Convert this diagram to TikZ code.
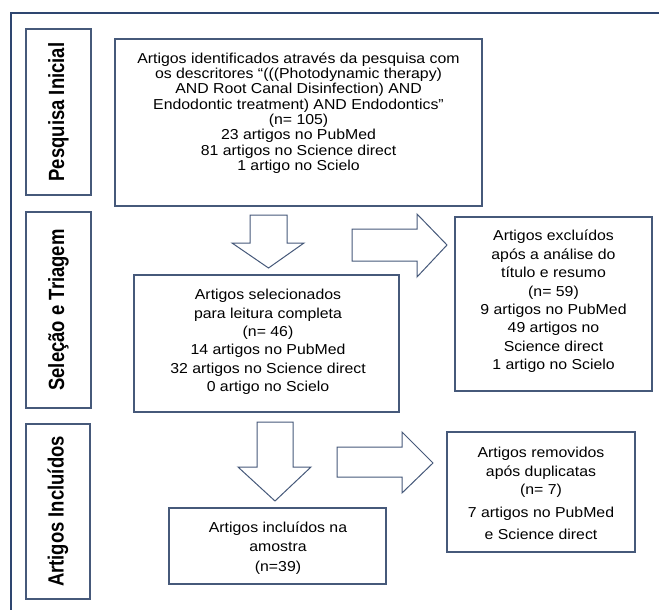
\documentclass[tikz,border=0pt]{standalone}
\usepackage{fontspec}
\setmainfont[FakeStretch=1.1]{Liberation Sans}
\newfontfamily\sidefont[FakeStretch=0.84]{Liberation Sans}
\definecolor{framecol}{HTML}{2E4670}
\definecolor{boxcol}{HTML}{46597A}

\begin{document}
\begin{tikzpicture}[x=1pt, y=-1pt,
    box/.style={draw=boxcol, line width=1.1pt, inner sep=0pt},
    txt/.style={align=center, inner sep=0pt,
      font=\fontsize{14.4}{18.4}\selectfont},
    side/.style={draw=boxcol, line width=1.1pt, rotate=90, inner sep=0pt,
      font=\sidefont\fontsize{22}{24}\selectfont\bfseries},
    blockarrow/.style={draw=boxcol, line width=1pt, fill=white}]

  \useasboundingbox (0,0) rectangle (659,610);
  \clip (0,0) rectangle (659,610);

  % Outer frame
  \draw[framecol, line width=1.1pt] (11,620) -- (11,13) -- (670,13);

  %%%%%%%%%%%%%%%%%%%%%%%%%%%%%%%%%%%%%%%%%%%%%%%%%
  % Side labels
  \node[side, minimum width=166, minimum height=65] (inicial) at (58.5,112) {Pesquisa Inicial};
  \node[side, minimum width=196, minimum height=65] (triagem) at (58.5,310) {Seleção e Triagem};
  \node[side, minimum width=175, minimum height=64] (incluidos) at (58,511.5) {Artigos Incluídos};

  %%%%%%%%%%%%%%%%%%%%%%%%%%%%%%%%%%%%%%%%%%%%%%%%%
  % Boxes
  \node[box, minimum width=367, minimum height=167] (ident) at (298.5,122.5) {};
  \node[txt, font=\fontsize{14.4}{15.3}\selectfont] (identtxt) at (298.5,113)
    {Artigos identificados através da pesquisa com\\
     os descritores “(((Photodynamic therapy)\\
     AND Root Canal Disinfection) AND\\
     Endodontic treatment) AND Endodontics”\\
     (n= 105)\\
     23 artigos no PubMed\\
     81 artigos no Science direct\\
     1 artigo no Scielo};

  \node[box, minimum width=265, minimum height=137] (selec) at (266.5,343.5) {};
  \node[txt] (selectxt) at (268,342)
    {Artigos selecionados\\
     para leitura completa\\
     (n= 46)\\
     14 artigos no PubMed\\
     32 artigos no Science direct\\
     0 artigo no Scielo};

  \node[box, minimum width=197, minimum height=174] (exclu) at (553.5,304) {};
  \node[txt] (exclutxt) at (553.5,301.5)
    {Artigos excluídos\\
     após a análise do\\
     título e resumo\\
     (n= 59)\\
     9 artigos no PubMed\\
     49 artigos no\\
     Science direct\\
     1 artigo no Scielo};

  \node[box, minimum width=188, minimum height=120] (remov) at (541,492) {};
  \node[txt] (removtxt) at (541,493.5)
    {Artigos removidos\\
     após duplicatas\\
     (n= 7)\\[5pt]
     7 artigos no PubMed\\[3.5pt]
     e Science direct};

  \node[box, minimum width=217, minimum height=76] (inclu) at (277.5,546) {};
  \node[txt] (inclutxt) at (278,548.5)
    {Artigos incluídos na\\
     amostra\\[2.5pt]
     (n=39)};

  %%%%%%%%%%%%%%%%%%%%%%%%%%%%%%%%%%%%%%%%%%%%%%%%%
  % Block arrows
  \draw[blockarrow] (250,215) -- (287,215) -- (287,243) -- (304,243)
    -- (268.5,268) -- (232,243) -- (250,243) -- cycle;
  \draw[blockarrow] (352,229) -- (417,229) -- (417,214) -- (447,245)
    -- (417,277) -- (417,261) -- (352,261) -- cycle;
  \draw[blockarrow] (257,422) -- (293,422) -- (293,467) -- (311,467)
    -- (275,501) -- (238,467) -- (257,467) -- cycle;
  \draw[blockarrow] (337,447) -- (402,447) -- (402,432) -- (433,463)
    -- (402,493) -- (402,477) -- (337,477) -- cycle;

\end{tikzpicture}
\end{document}
